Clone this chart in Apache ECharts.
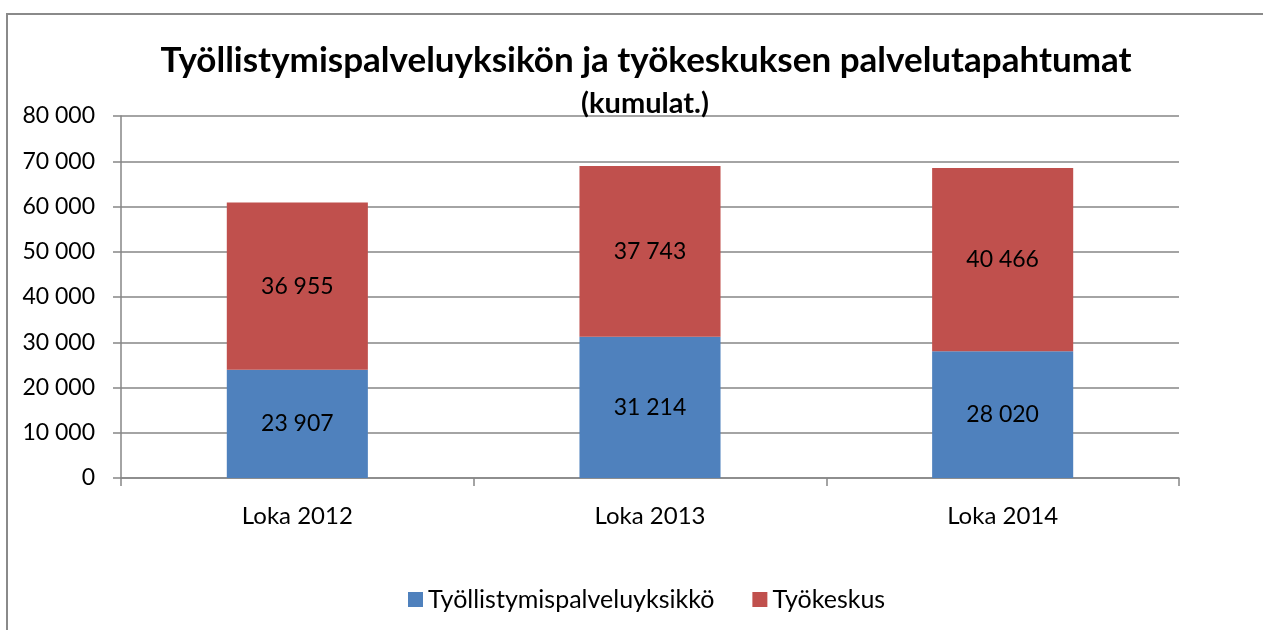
<!DOCTYPE html>
<html>
<head>
<meta charset="utf-8">
<script src="https://cdn.jsdelivr.net/npm/echarts@6/dist/echarts.min.js"></script>
<style>
  html, body { margin: 0; padding: 0; background: #fff; }
  #chart { width: 1263px; height: 630px; }
</style>
</head>
<body>
<div id="chart"></div>
<script>
// Monthly cumulative service events, October of each year
const categories = ['Loka 2012', 'Loka 2013', 'Loka 2014'];
const seriesNames = ['Työllistymispalveluyksikkö', 'Työkeskus'];
const unitValues = [23907, 31214, 28020];
const workshopValues = [36955, 37743, 40466];
const yTicks = [0, 10000, 20000, 30000, 40000, 50000, 60000, 70000, 80000];

const FONT = 'Lato, "Open Sans", sans-serif';

// Finnish-style thousands grouping with a space
function fmt(v) {
  return String(Math.round(v)).replace(/\B(?=(\d{3})+(?!\d))/g, ' ');
}

const chart = echarts.init(document.getElementById('chart'));
chart.setOption({
  backgroundColor: '#ffffff',
  animation: false,
  graphic: [{
    type: 'rect',
    shape: { x: 7, y: 14, width: 1270, height: 640 },
    style: { fill: 'none', stroke: '#8a8a8a', lineWidth: 2 },
    silent: true
  }],
  title: [{
    text: 'Työllistymispalveluyksikön ja työkeskuksen palvelutapahtumat',
    left: 641,
    textAlign: 'center',
    top: 38,
    textStyle: { fontFamily: FONT, fontWeight: 'bold', fontSize: 35, color: '#000' }
  }, {
    text: '(kumulat.)',
    left: 640,
    textAlign: 'center',
    top: 84,
    textStyle: { fontFamily: FONT, fontWeight: 'bold', fontSize: 29, color: '#000' }
  }],
  legend: {
    bottom: 13,
    left: 403,
    icon: 'rect',
    itemWidth: 15,
    itemHeight: 15,
    itemGap: 38,
    textStyle: { fontFamily: FONT, fontSize: 25, color: '#000', padding: [0, 0, 0, 0] },
    data: seriesNames
  },
  grid: { left: 121, right: 84, top: 116, bottom: 152 },
  xAxis: {
    type: 'category',
    data: categories,
    axisLine: { show: true, lineStyle: { color: '#868686', width: 1.5 } },
    axisTick: { show: true, interval: 0, length: 8, lineStyle: { color: '#868686', width: 1.5 } },
    axisLabel: { fontFamily: FONT, fontSize: 24, color: '#000', margin: 26 }
  },
  yAxis: {
    type: 'value',
    min: 0,
    max: 80000,
    interval: 10000,
    axisLine: { show: true, lineStyle: { color: '#868686', width: 1.5 } },
    axisTick: { show: true, length: 8, lineStyle: { color: '#868686', width: 1.5 } },
    splitLine: { show: true, lineStyle: { color: '#868686', width: 1.5 } },
    axisLabel: {
      fontFamily: FONT, fontSize: 23, color: '#000', margin: 26,
      formatter: function (v) { return yTicks.indexOf(v) >= 0 ? fmt(v) : ''; }
    }
  },
  series: [{
    name: seriesNames[0],
    type: 'bar',
    stack: 'total',
    barWidth: '40%',
    data: unitValues,
    itemStyle: { color: '#4F81BD' },
    label: {
      show: true, position: 'inside', color: '#000',
      fontFamily: FONT, fontSize: 23,
      formatter: function (p) { return fmt(p.value); }
    }
  }, {
    name: seriesNames[1],
    type: 'bar',
    stack: 'total',
    barWidth: '40%',
    data: workshopValues,
    itemStyle: { color: '#C0504D' },
    label: {
      show: true, position: 'inside', color: '#000',
      fontFamily: FONT, fontSize: 23,
      formatter: function (p) { return fmt(p.value); }
    }
  }]
});
</script>
</body>
</html>
